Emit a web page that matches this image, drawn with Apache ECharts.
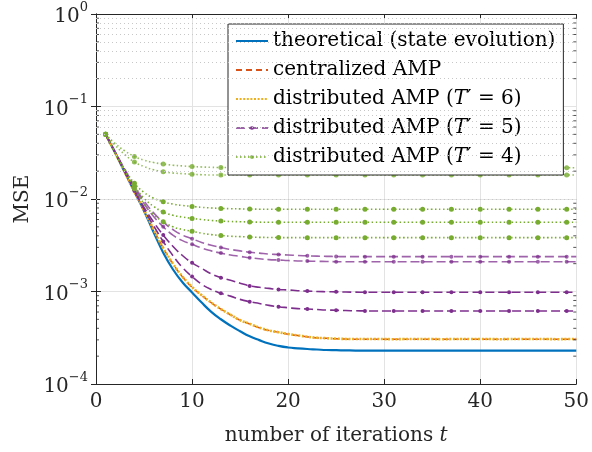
<!DOCTYPE html>
<html>
<head>
<meta charset="utf-8">
<script src="https://cdn.jsdelivr.net/npm/echarts@6/dist/echarts.min.js"></script>
<style>
  html, body { margin: 0; padding: 0; background: #fff; }
  #chart { width: 592px; height: 452px; }
</style>
</head>
<body>
<div id="chart"></div>
<script>
/* MSE vs iterations: state evolution, centralized AMP, distributed AMP for T' = 6, 5, 4 */
const iterations = [1, 2, 3, 4, 5, 6, 7, 8, 9, 10, 11, 12, 13, 14, 15, 16, 17, 18, 19, 20,
  21, 22, 23, 24, 25, 26, 27, 28, 29, 30, 31, 32, 33, 34, 35, 36, 37, 38, 39, 40,
  41, 42, 43, 44, 45, 46, 47, 48, 49, 50];

const theory = [0.0501, 0.0316, 0.0195, 0.0120, 0.00741, 0.00437, 0.00263, 0.00174, 0.00126, 0.000977,
  0.000759, 0.000603, 0.000501, 0.000427, 0.000372, 0.000328, 0.000298, 0.000274, 0.000258, 0.000248,
  0.000243, 0.000239, 0.000236, 0.000233, 0.000232, 0.000231, 0.000230, 0.000230, 0.000229, 0.000229,
  0.000229, 0.000229, 0.000229, 0.000229, 0.000229, 0.000229, 0.000229, 0.000229, 0.000229, 0.000229,
  0.000229, 0.000229, 0.000229, 0.000229, 0.000229, 0.000229, 0.000229, 0.000229, 0.000229, 0.000229];

const centralized = [0.0501, 0.0316, 0.0195, 0.0120, 0.00757, 0.00466, 0.00294, 0.00199, 0.00144, 0.00111,
  0.000908, 0.000756, 0.000643, 0.000560, 0.000488, 0.000445, 0.000405, 0.000379, 0.000362, 0.000346,
  0.000334, 0.000323, 0.000315, 0.000312, 0.000308, 0.000306, 0.000305, 0.000305, 0.000305, 0.000305,
  0.000305, 0.000305, 0.000305, 0.000305, 0.000305, 0.000305, 0.000305, 0.000305, 0.000305, 0.000305,
  0.000305, 0.000305, 0.000305, 0.000305, 0.000305, 0.000305, 0.000305, 0.000305, 0.000305, 0.000305];

const distT6 = [0.0501, 0.0316, 0.0195, 0.0120, 0.00759, 0.00468, 0.00295, 0.00200, 0.00145, 0.00112,
  0.000912, 0.000759, 0.000646, 0.000562, 0.000490, 0.000447, 0.000407, 0.000380, 0.000363, 0.000347,
  0.000335, 0.000324, 0.000316, 0.000313, 0.000309, 0.000307, 0.000306, 0.000306, 0.000307, 0.000306,
  0.000305, 0.000306, 0.000307, 0.000306, 0.000306, 0.000305, 0.000306, 0.000307, 0.000306, 0.000306,
  0.000306, 0.000305, 0.000306, 0.000306, 0.000307, 0.000306, 0.000306, 0.000305, 0.000306, 0.000306];

const distT5 = [
  [0.0501, 0.0324, 0.0209, 0.0138, 0.00955, 0.00708, 0.00562, 0.00468, 0.00407, 0.00372,
    0.00339, 0.00316, 0.00299, 0.00285, 0.00275, 0.00266, 0.00260, 0.00254, 0.00251, 0.00248,
    0.00245, 0.00243, 0.00241, 0.00240, 0.00239, 0.00238, 0.00238, 0.00238, 0.00238, 0.00238,
    0.00238, 0.00238, 0.00238, 0.00238, 0.00238, 0.00238, 0.00238, 0.00238, 0.00238, 0.00238,
    0.00238, 0.00238, 0.00238, 0.00238, 0.00238, 0.00238, 0.00238, 0.00238, 0.00238, 0.00238],
  [0.0501, 0.0316, 0.0204, 0.0132, 0.00891, 0.00646, 0.00501, 0.00407, 0.00355, 0.00324,
    0.00295, 0.00275, 0.00260, 0.00248, 0.00240, 0.00232, 0.00226, 0.00221, 0.00219, 0.00216,
    0.00214, 0.00213, 0.00212, 0.00211, 0.00210, 0.00210, 0.00210, 0.00210, 0.00210, 0.00210,
    0.00210, 0.00210, 0.00210, 0.00210, 0.00210, 0.00210, 0.00210, 0.00210, 0.00210, 0.00210,
    0.00210, 0.00210, 0.00210, 0.00210, 0.00210, 0.00210, 0.00210, 0.00210, 0.00210, 0.00210],
  [0.0501, 0.0316, 0.0200, 0.0126, 0.00813, 0.00562, 0.00407, 0.00309, 0.00245, 0.00204,
    0.00178, 0.00155, 0.00141, 0.00132, 0.00123, 0.00115, 0.00111, 0.00108, 0.00105, 0.00104,
    0.00102, 0.00101, 0.00100, 0.000995, 0.000991, 0.000986, 0.000984, 0.000982, 0.000980, 0.000980,
    0.000980, 0.000980, 0.000980, 0.000980, 0.000980, 0.000980, 0.000980, 0.000980, 0.000980, 0.000980,
    0.000980, 0.000980, 0.000980, 0.000980, 0.000980, 0.000980, 0.000980, 0.000980, 0.000980, 0.000980],
  [0.0501, 0.0316, 0.0195, 0.0123, 0.00776, 0.00513, 0.00347, 0.00245, 0.00182, 0.00145,
    0.00120, 0.00105, 0.000955, 0.000891, 0.000822, 0.000776, 0.000741, 0.000708, 0.000685, 0.000668,
    0.000653, 0.000646, 0.000638, 0.000631, 0.000627, 0.000622, 0.000619, 0.000617, 0.000615, 0.000615,
    0.000615, 0.000615, 0.000615, 0.000615, 0.000615, 0.000615, 0.000615, 0.000615, 0.000615, 0.000615,
    0.000615, 0.000615, 0.000615, 0.000615, 0.000615, 0.000615, 0.000615, 0.000615, 0.000615, 0.000615]
];

const distT4 = [
  [0.0501, 0.0398, 0.0331, 0.0288, 0.0263, 0.0248, 0.0239, 0.0232, 0.0228, 0.0224,
    0.0222, 0.0220, 0.0219, 0.0219, 0.0218, 0.0218, 0.0218, 0.0218, 0.0218, 0.0218,
    0.0218, 0.0218, 0.0218, 0.0218, 0.0218, 0.0218, 0.0218, 0.0218, 0.0218, 0.0218,
    0.0218, 0.0218, 0.0218, 0.0218, 0.0218, 0.0218, 0.0218, 0.0218, 0.0218, 0.0218,
    0.0218, 0.0218, 0.0218, 0.0218, 0.0218, 0.0218, 0.0218, 0.0218, 0.0218, 0.0218],
  [0.0501, 0.0380, 0.0302, 0.0251, 0.0224, 0.0207, 0.0197, 0.0191, 0.0188, 0.0185,
    0.0183, 0.0182, 0.0182, 0.0182, 0.0182, 0.0182, 0.0182, 0.0182, 0.0182, 0.0182,
    0.0182, 0.0182, 0.0182, 0.0182, 0.0182, 0.0182, 0.0182, 0.0182, 0.0182, 0.0182,
    0.0182, 0.0182, 0.0182, 0.0182, 0.0182, 0.0182, 0.0182, 0.0182, 0.0182, 0.0182,
    0.0182, 0.0182, 0.0182, 0.0182, 0.0182, 0.0182, 0.0182, 0.0182, 0.0182, 0.0182],
  [0.0501, 0.0316, 0.0209, 0.0148, 0.0118, 0.0102, 0.00933, 0.00881, 0.00851, 0.00832,
    0.00813, 0.00800, 0.00791, 0.00785, 0.00782, 0.00778, 0.00776, 0.00774, 0.00774, 0.00774,
    0.00774, 0.00774, 0.00774, 0.00774, 0.00774, 0.00774, 0.00774, 0.00774, 0.00774, 0.00774,
    0.00774, 0.00774, 0.00774, 0.00774, 0.00774, 0.00774, 0.00774, 0.00774, 0.00774, 0.00774,
    0.00774, 0.00774, 0.00774, 0.00774, 0.00774, 0.00774, 0.00774, 0.00774, 0.00774, 0.00774],
  [0.0501, 0.0316, 0.0204, 0.0138, 0.0102, 0.00832, 0.00724, 0.00668, 0.00638, 0.00617,
    0.00600, 0.00586, 0.00578, 0.00571, 0.00568, 0.00565, 0.00562, 0.00561, 0.00560, 0.00560,
    0.00560, 0.00560, 0.00560, 0.00560, 0.00560, 0.00560, 0.00560, 0.00560, 0.00560, 0.00560,
    0.00560, 0.00560, 0.00560, 0.00560, 0.00560, 0.00560, 0.00560, 0.00560, 0.00560, 0.00560,
    0.00560, 0.00560, 0.00560, 0.00560, 0.00560, 0.00560, 0.00560, 0.00560, 0.00560, 0.00560],
  [0.0501, 0.0316, 0.0200, 0.0129, 0.00891, 0.00676, 0.00569, 0.00501, 0.00468, 0.00447,
    0.00427, 0.00412, 0.00403, 0.00396, 0.00392, 0.00388, 0.00385, 0.00384, 0.00383, 0.00382,
    0.00382, 0.00382, 0.00382, 0.00382, 0.00382, 0.00382, 0.00382, 0.00382, 0.00382, 0.00382,
    0.00382, 0.00382, 0.00382, 0.00382, 0.00382, 0.00382, 0.00382, 0.00382, 0.00382, 0.00382,
    0.00382, 0.00382, 0.00382, 0.00382, 0.00382, 0.00382, 0.00382, 0.00382, 0.00382, 0.00382]
];

const legendNames = ['theoretical (state evolution)', 'centralized AMP',
  'distributed AMP (T′ = 6)', 'distributed AMP (T′ = 5)', 'distributed AMP (T′ = 4)'];
const yTicks = [1e-4, 1e-3, 1e-2, 1e-1, 1];
const xTicks = [0, 10, 20, 30, 40, 50];

const FONT = 'DejaVu Serif';
const INK = '#262626';
const FS = 20;

// minor log positions 2..9 per decade (grid + ticks only)
const minorY = [];
for (let d = 0; d < yTicks.length - 1; d++) {
  for (let k = 2; k <= 9; k++) minorY.push(k * yTicks[d]);
}

function curve(name, values, color, dash, width, marker, opacity) {
  return {
    name, type: 'line', z: 3,
    smooth: 0.5,
    symbol: marker ? 'circle' : 'none',
    symbolSize: marker || 0,
    showSymbol: !!marker,
    lineStyle: { color, type: dash, width, opacity: opacity || 1, cap: 'butt', join: 'round' },
    itemStyle: { color, opacity: opacity || 1 },
    data: values.map((v, i) => ({
      value: [iterations[i], v],
      symbol: marker && i % 3 === 0 ? 'circle' : 'none'
    })),
    silent: true, animation: false
  };
}

const series = [
  curve(legendNames[0], theory, '#0072BD', 'solid', 2.2, 0),
  curve(legendNames[1], centralized, '#D95319', [6, 4], 1.5, 0),
  curve(legendNames[2], distT6, '#EDB120', [2, 1.6], 2.6, 0)
];
distT5.forEach((vals, i) => series.push(curve(legendNames[3], vals, '#7E2F8E', [9, 4], 1.6, 4, i < 2 ? 0.75 : 1)));
distT4.forEach((vals, i) => series.push(curve(legendNames[4], vals, '#77AC30', [1.5, 2.5], 1.6, 5, i < 2 ? 0.8 : 1)));

// minor grid lines
series.push({
  type: 'line', z: 1, data: [], silent: true, animation: false,
  markLine: {
    silent: true, symbol: 'none', label: { show: false }, animation: false,
    lineStyle: { color: '#c8c8c8', type: [1, 3], width: 1 },
    data: minorY.map((v) => ({ yAxis: v }))
  }
});
// minor ticks on left and right frame
series.push({
  type: 'scatter', z: 4, silent: true, animation: false,
  symbol: 'rect', symbolSize: [3, 1], symbolOffset: [1.5, 0],
  itemStyle: { color: INK }, data: minorY.map((v) => [0, v])
});
series.push({
  type: 'scatter', z: 4, silent: true, animation: false,
  symbol: 'rect', symbolSize: [3, 1], symbolOffset: [-1.5, 0],
  itemStyle: { color: INK }, data: minorY.map((v) => [50, v])
});

const sup = (v) => {
  const e = Math.round(Math.log10(v));
  return '{b|10}{s|' + (e < 0 ? '−' + (-e) : e) + '}';
};

const chart = echarts.init(document.getElementById('chart'));
chart.setOption({
  animation: false,
  backgroundColor: '#fff',
  grid: { left: 96, right: 13, top: 14, bottom: 68 },
  legend: {
    orient: 'vertical', left: 228, top: 24,
    data: legendNames.map((n, i) => (i < 3 ? { name: n, itemStyle: { opacity: 0 } } : { name: n })),
    itemWidth: 32, itemHeight: 5, itemGap: 7,
    padding: [6, 8, 7, 7],
    backgroundColor: '#fff', borderColor: INK, borderWidth: 1, borderRadius: 0,
    selectedMode: false,
    formatter: (n) => n.replace('T′', '{i|T}′'),
    textStyle: {
      fontFamily: FONT, fontSize: FS, color: '#000', lineHeight: 22,
      rich: { i: { fontFamily: FONT, fontSize: FS, fontStyle: 'italic', color: '#000' } }
    }
  },
  xAxis: [{
    type: 'value', min: xTicks[0], max: xTicks[xTicks.length - 1], interval: 10,
    name: 'number of iterations {i|t}', nameLocation: 'middle', nameGap: 42,
    nameTextStyle: {
      fontFamily: FONT, fontSize: FS, color: INK,
      rich: { i: { fontFamily: FONT, fontSize: FS, fontStyle: 'italic', color: INK } }
    },
    axisLine: { lineStyle: { color: INK, width: 1 } },
    axisTick: { inside: true, length: 5, lineStyle: { color: INK } },
    axisLabel: { fontFamily: FONT, fontSize: FS, color: INK, margin: 8 },
    splitLine: { show: true, lineStyle: { color: '#e3e3e3', width: 1 } }
  }, {
    type: 'value', position: 'top', min: xTicks[0], max: xTicks[xTicks.length - 1], interval: 10,
    axisLine: { show: true, lineStyle: { color: INK, width: 1 } },
    axisTick: { inside: true, length: 5, lineStyle: { color: INK } },
    axisLabel: { show: false }, splitLine: { show: false }
  }],
  yAxis: [{
    type: 'log', logBase: 10, min: yTicks[0], max: yTicks[yTicks.length - 1],
    name: 'MSE', nameLocation: 'middle', nameGap: 62, nameRotate: 90,
    nameTextStyle: { fontFamily: FONT, fontSize: FS, color: INK },
    axisLine: { show: true, lineStyle: { color: INK, width: 1 } },
    axisTick: { inside: true, length: 5, lineStyle: { color: INK } },
    axisLabel: {
      formatter: sup, margin: 8,
      rich: {
        b: { fontFamily: FONT, fontSize: FS, color: INK, lineHeight: 26, verticalAlign: 'bottom' },
        s: { fontFamily: FONT, fontSize: 13, color: INK, lineHeight: 13, verticalAlign: 'top' }
      }
    },
    splitLine: { show: true, lineStyle: { color: '#e3e3e3', width: 1 } }
  }, {
    type: 'log', logBase: 10, min: yTicks[0], max: yTicks[yTicks.length - 1], position: 'right',
    axisLine: { show: true, lineStyle: { color: INK, width: 1 } },
    axisTick: { inside: true, length: 5, lineStyle: { color: INK } },
    axisLabel: { show: false }, splitLine: { show: false }
  }],
  series
});
</script>
</body>
</html>
